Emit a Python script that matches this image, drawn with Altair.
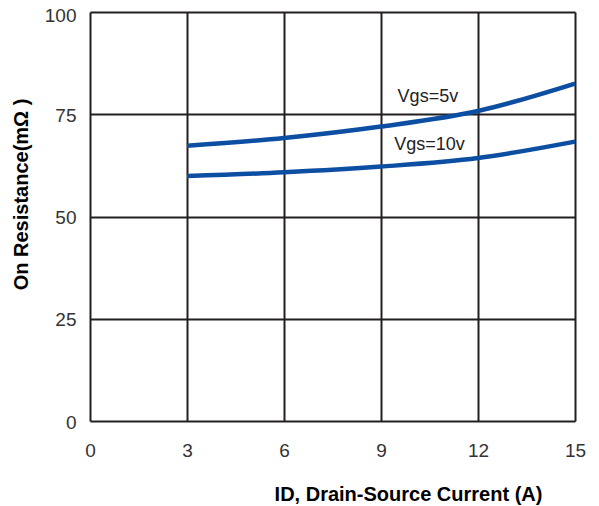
import altair as alt
import pandas as pd

current = [3, 6, 9, 12, 15]
r_5v = [67.3, 69.2, 72.0, 75.8, 82.5]
r_10v = [59.9, 60.8, 62.2, 64.3, 68.3]
series = ["Vgs=5v", "Vgs=10v"]

label_text = ["Vgs=5v", "Vgs=10v"]
label_x = [10.45, 10.5]
label_y = [79.2, 67.4]

rows = []
for s, vals in zip(series, [r_5v, r_10v]):
    for c, v in zip(current, vals):
        rows.append({"current": c, "r": v, "series": s})
df = pd.DataFrame(rows)
labels = pd.DataFrame({"text": label_text, "x": label_x, "y": label_y})

FONT = "Liberation Sans"

x_scale = alt.Scale(domain=[0, 15], nice=False)
y_scale = alt.Scale(domain=[0, 100], nice=False)

lines = alt.Chart(df).mark_line(interpolate="monotone", strokeWidth=4.5, color="#0b4ea2").encode(
    x=alt.X("current:Q", scale=x_scale,
            axis=alt.Axis(values=[0, 3, 6, 9, 12, 15], title="ID, Drain-Source Current (A)",
                          grid=True, gridColor="#231f20", gridWidth=2, gridOpacity=1,
                          ticks=False, domain=False, labelPadding=20, labelFontSize=19,
                          labelColor="#333333", labelFont=FONT, labelFlush=False,
                          titleFont=FONT, titleFontSize=20, titleFontWeight="bold",
                          titleColor="#000000", titleX=318, titleY=63)),
    y=alt.Y("r:Q", scale=y_scale,
            axis=alt.Axis(values=[0, 25, 50, 75, 100], title="On Resistance(mΩ )",
                          grid=True, gridColor="#231f20", gridWidth=2, gridOpacity=1,
                          ticks=False, domain=False, labelPadding=14, labelFontSize=19,
                          labelOffset=alt.condition("datum.value == 100", alt.value(3), alt.value(1)),
                          labelColor="#333333", labelFont=FONT, labelFlush=False,
                          titleFont=FONT, titleFontSize=20, titleFontWeight="bold",
                          titleColor="#000000", titleX=-59, titleY=182)),
    detail="series:N",
)

text = alt.Chart(labels).mark_text(font=FONT, fontSize=18, color="#222222").encode(
    x=alt.X("x:Q", scale=x_scale),
    y=alt.Y("y:Q", scale=y_scale),
    text="text:N",
)

chart = alt.layer(lines, text).properties(
    width=485, height=409,
    autosize=alt.AutoSizeParams(type="none"),
    padding={"left": 82, "top": 4, "right": 16, "bottom": 85},
).configure_view(stroke="#231f20", strokeWidth=3).configure(background="white")

chart.save("out.html", embed_options={"renderer": "svg", "actions": False})
